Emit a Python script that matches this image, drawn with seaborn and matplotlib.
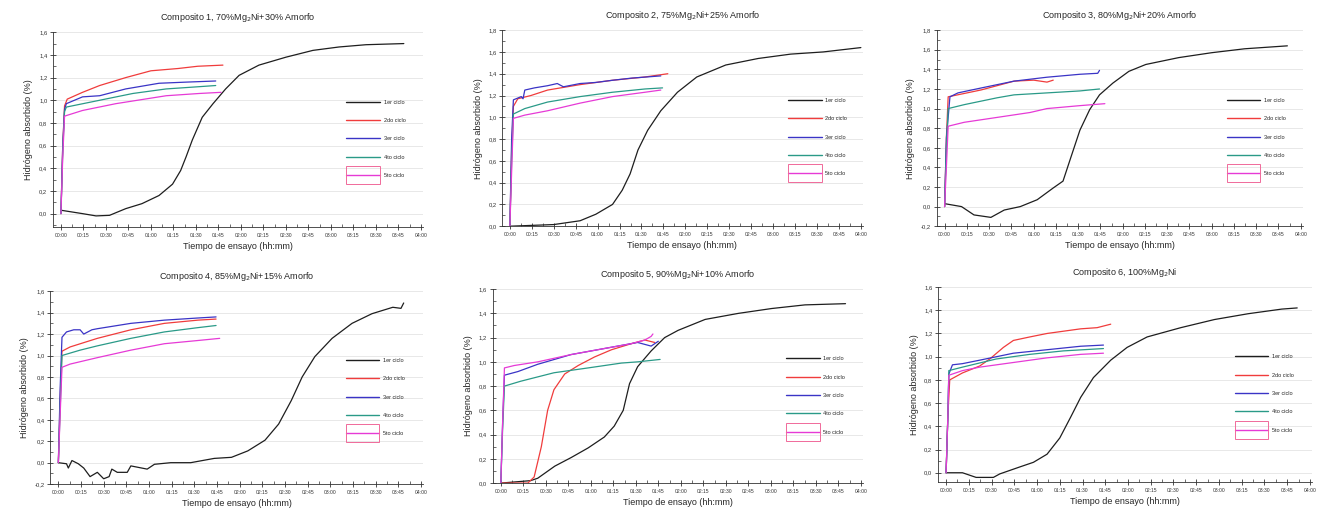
import pandas as pd
import seaborn as sns
import matplotlib.pyplot as plt
from matplotlib.patches import Rectangle
from matplotlib.ticker import MultipleLocator, FuncFormatter

ciclos = ["1er ciclo", "2do ciclo", "3er ciclo", "4to ciclo", "5to ciclo"]
colores = ["#1e1e1e", "#f03c3c", "#3a34c6", "#2a9a88", "#e63ad6"]

titulos = [
    "Composito 1, 70%Mg$_2$Ni+30% Amorfo",
    "Composito 2, 75%Mg$_2$Ni+25% Amorfo",
    "Composito 3, 80%Mg$_2$Ni+20% Amorfo",
    "Composito 4, 85%Mg$_2$Ni+15% Amorfo",
    "Composito 5, 90%Mg$_2$Ni+10% Amorfo",
    "Composito 6, 100%Mg$_2$Ni",
]

# tiempo en horas, hidrogeno absorbido en %
# Composito 1
c1_t1 = [0.0, 0.24, 0.39, 0.54, 0.72, 0.9, 1.09, 1.24, 1.33, 1.39, 1.46, 1.57, 1.69, 1.83, 1.98, 2.2, 2.5, 2.8, 3.09, 3.39, 3.81]
c1_h1 = [0.03, 0.0, -0.02, -0.015, 0.044, 0.088, 0.16, 0.26, 0.38, 0.5, 0.65, 0.85, 0.97, 1.1, 1.22, 1.31, 1.38, 1.44, 1.47, 1.49, 1.5]
c1_t2 = [0.0, 0.02, 0.04, 0.07, 0.24, 0.43, 0.72, 1.0, 1.3, 1.52, 1.8]
c1_h2 = [0.0, 0.6, 0.95, 1.01, 1.07, 1.13, 1.2, 1.26, 1.28, 1.3, 1.31]
c1_t3 = [0.0, 0.02, 0.04, 0.06, 0.24, 0.43, 0.72, 1.09, 1.39, 1.72]
c1_h3 = [0.0, 0.6, 0.92, 0.97, 1.03, 1.04, 1.1, 1.15, 1.16, 1.17]
c1_t4 = [0.0, 0.02, 0.04, 0.06, 0.43, 0.8, 1.17, 1.54, 1.72]
c1_h4 = [0.0, 0.55, 0.9, 0.94, 1.0, 1.06, 1.1, 1.12, 1.13]
c1_t5 = [0.0, 0.02, 0.04, 0.24, 0.61, 1.17, 1.54, 1.78]
c1_h5 = [0.0, 0.5, 0.86, 0.91, 0.97, 1.04, 1.06, 1.07]

# Composito 2
c2_t1 = [0.0, 0.5, 0.8, 0.98, 1.17, 1.28, 1.37, 1.46, 1.57, 1.72, 1.91, 2.13, 2.46, 2.83, 3.2, 3.57, 4.0]
c2_h1 = [0.0, 0.015, 0.05, 0.11, 0.2, 0.33, 0.48, 0.7, 0.88, 1.06, 1.23, 1.37, 1.48, 1.54, 1.58, 1.6, 1.64]
c2_t2 = [0.0, 0.02, 0.04, 0.09, 0.24, 0.43, 0.8, 1.17, 1.54, 1.8]
c2_h2 = [0.0, 0.7, 1.1, 1.17, 1.2, 1.25, 1.3, 1.34, 1.37, 1.4]
c2_t3 = [0.0, 0.02, 0.04, 0.13, 0.15, 0.17, 0.28, 0.43, 0.54, 0.61, 0.8, 0.98, 1.17, 1.39, 1.72]
c2_h3 = [0.0, 0.8, 1.16, 1.19, 1.17, 1.25, 1.27, 1.29, 1.31, 1.28, 1.31, 1.32, 1.34, 1.36, 1.38]
c2_t4 = [0.0, 0.02, 0.04, 0.17, 0.43, 0.8, 1.17, 1.54, 1.74]
c2_h4 = [0.0, 0.6, 1.03, 1.08, 1.14, 1.19, 1.23, 1.26, 1.27]
c2_t5 = [0.0, 0.02, 0.04, 0.17, 0.43, 0.8, 1.17, 1.54, 1.72]
c2_h5 = [0.0, 0.5, 0.99, 1.02, 1.06, 1.13, 1.19, 1.23, 1.25]

# Composito 3
c3_t1 = [0.0, 0.19, 0.33, 0.52, 0.67, 0.85, 1.04, 1.22, 1.33, 1.41, 1.52, 1.63, 1.74, 1.89, 2.07, 2.26, 2.63, 3.0, 3.37, 3.85]
c3_h1 = [0.03, 0.0, -0.085, -0.11, -0.035, 0.0, 0.07, 0.19, 0.26, 0.48, 0.78, 0.99, 1.14, 1.26, 1.38, 1.45, 1.52, 1.57, 1.61, 1.64]
c3_t2 = [0.0, 0.02, 0.04, 0.41, 0.78, 1.0, 1.15, 1.22]
c3_h2 = [0.0, 0.7, 1.12, 1.19, 1.28, 1.29, 1.27, 1.29]
c3_t3 = [0.0, 0.02, 0.06, 0.15, 0.41, 0.78, 1.15, 1.52, 1.72, 1.74]
c3_h3 = [0.0, 0.7, 1.12, 1.16, 1.21, 1.28, 1.32, 1.35, 1.36, 1.39]
c3_t4 = [0.0, 0.02, 0.04, 0.22, 0.59, 0.78, 1.15, 1.52, 1.74]
c3_h4 = [0.0, 0.6, 1.0, 1.04, 1.11, 1.14, 1.16, 1.18, 1.2]
c3_t5 = [0.0, 0.02, 0.04, 0.22, 0.59, 0.96, 1.15, 1.52, 1.8]
c3_h5 = [0.0, 0.4, 0.82, 0.86, 0.91, 0.96, 1.0, 1.03, 1.05]

# Composito 4
c4_t1 = [0.0, 0.09, 0.11, 0.15, 0.22, 0.28, 0.35, 0.43, 0.5, 0.56, 0.59, 0.65, 0.76, 0.8, 0.98, 1.06, 1.24, 1.46,
         1.72, 1.91, 2.09, 2.28, 2.43, 2.57, 2.69, 2.83, 3.02, 3.24, 3.46, 3.69, 3.78, 3.81]
c4_h1 = [0.0, -0.01, -0.05, 0.02, -0.01, -0.05, -0.13, -0.09, -0.15, -0.13, -0.06, -0.09, -0.09, -0.03, -0.06, -0.015, 0.0, 0.0,
         0.04, 0.05, 0.11, 0.21, 0.36, 0.58, 0.8, 0.99, 1.16, 1.3, 1.39, 1.45, 1.44, 1.49]
c4_t2 = [0.0, 0.02, 0.04, 0.13, 0.43, 0.8, 1.17, 1.54, 1.74]
c4_h2 = [0.0, 0.6, 1.04, 1.08, 1.16, 1.24, 1.3, 1.33, 1.34]
c4_t3 = [0.0, 0.02, 0.04, 0.09, 0.17, 0.24, 0.28, 0.37, 0.43, 0.8, 1.17, 1.54, 1.74]
c4_h3 = [0.0, 0.7, 1.17, 1.22, 1.24, 1.24, 1.2, 1.24, 1.25, 1.3, 1.33, 1.35, 1.36]
c4_t4 = [0.0, 0.02, 0.04, 0.24, 0.43, 0.8, 1.17, 1.54, 1.74]
c4_h4 = [0.0, 0.5, 1.0, 1.05, 1.09, 1.16, 1.22, 1.26, 1.28]
c4_t5 = [0.0, 0.02, 0.04, 0.13, 0.43, 0.8, 1.17, 1.54, 1.78]
c4_h5 = [0.0, 0.45, 0.89, 0.92, 0.98, 1.05, 1.11, 1.14, 1.16]

# Composito 5
c5_t1 = [0.0, 0.33, 0.41, 0.6, 0.78, 0.97, 1.15, 1.26, 1.36, 1.43, 1.52, 1.67, 1.82, 1.97, 2.27, 2.64, 3.01, 3.38, 3.83]
c5_h1 = [0.0, 0.02, 0.04, 0.14, 0.21, 0.29, 0.38, 0.47, 0.6, 0.82, 0.96, 1.09, 1.2, 1.26, 1.35, 1.4, 1.44, 1.47, 1.48]
c5_t2 = [0.0, 0.3, 0.37, 0.45, 0.52, 0.59, 0.71, 0.86, 1.04, 1.23, 1.45, 1.6, 1.71]
c5_h2 = [0.0, 0.0, 0.05, 0.3, 0.6, 0.77, 0.9, 0.97, 1.04, 1.1, 1.15, 1.18, 1.16]
c5_t3 = [0.0, 0.02, 0.04, 0.19, 0.41, 0.78, 1.15, 1.52, 1.67, 1.75]
c5_h3 = [0.0, 0.5, 0.89, 0.92, 0.98, 1.06, 1.11, 1.16, 1.13, 1.17]
c5_t4 = [0.0, 0.02, 0.04, 0.22, 0.59, 0.97, 1.34, 1.52, 1.77]
c5_h4 = [0.0, 0.45, 0.8, 0.84, 0.91, 0.95, 0.99, 1.0, 1.02]
c5_t5 = [0.0, 0.02, 0.04, 0.15, 0.41, 0.78, 1.15, 1.45, 1.6, 1.67, 1.69]
c5_h5 = [0.0, 0.5, 0.95, 0.97, 1.0, 1.06, 1.11, 1.15, 1.18, 1.21, 1.23]

# Composito 6
c6_t1 = [0.0, 0.18, 0.33, 0.52, 0.59, 0.81, 0.96, 1.11, 1.25, 1.37, 1.48, 1.62, 1.81, 1.99, 2.21, 2.58, 2.95, 3.32, 3.69, 3.86]
c6_h1 = [0.0, 0.0, -0.04, -0.04, -0.01, 0.05, 0.09, 0.16, 0.3, 0.48, 0.65, 0.82, 0.97, 1.08, 1.17, 1.25, 1.32, 1.37, 1.41, 1.42]
c6_t2 = [0.0, 0.02, 0.04, 0.18, 0.37, 0.48, 0.63, 0.74, 0.92, 1.11, 1.48, 1.66, 1.81]
c6_h2 = [0.0, 0.5, 0.8, 0.86, 0.92, 0.98, 1.08, 1.14, 1.17, 1.2, 1.24, 1.25, 1.28]
c6_t3 = [0.0, 0.02, 0.03, 0.07, 0.18, 0.37, 0.74, 1.11, 1.48, 1.73]
c6_h3 = [0.0, 0.5, 0.85, 0.93, 0.94, 0.97, 1.03, 1.06, 1.09, 1.1]
c6_t4 = [0.0, 0.02, 0.03, 0.18, 0.55, 0.92, 1.29, 1.73]
c6_h4 = [0.0, 0.5, 0.88, 0.91, 0.98, 1.02, 1.05, 1.07]
c6_t5 = [0.0, 0.02, 0.03, 0.18, 0.37, 0.74, 1.11, 1.48, 1.73]
c6_h5 = [0.0, 0.5, 0.84, 0.88, 0.91, 0.95, 0.99, 1.02, 1.03]

paneles = [
    [(c1_t1, c1_h1), (c1_t2, c1_h2), (c1_t3, c1_h3), (c1_t4, c1_h4), (c1_t5, c1_h5)],
    [(c2_t1, c2_h1), (c2_t2, c2_h2), (c2_t3, c2_h3), (c2_t4, c2_h4), (c2_t5, c2_h5)],
    [(c3_t1, c3_h1), (c3_t2, c3_h2), (c3_t3, c3_h3), (c3_t4, c3_h4), (c3_t5, c3_h5)],
    [(c4_t1, c4_h1), (c4_t2, c4_h2), (c4_t3, c4_h3), (c4_t4, c4_h4), (c4_t5, c4_h5)],
    [(c5_t1, c5_h1), (c5_t2, c5_h2), (c5_t3, c5_h3), (c5_t4, c5_h4), (c5_t5, c5_h5)],
    [(c6_t1, c6_h1), (c6_t2, c6_h2), (c6_t3, c6_h3), (c6_t4, c6_h4), (c6_t5, c6_h5)],
]

ylims = [(-0.12, 1.6), (0.0, 1.8), (-0.2, 1.8), (-0.2, 1.6), (0.0, 1.6), (-0.08, 1.6)]

# posiciones de los ejes [left, bottom, width, height]
posiciones = [
    [0.040, 0.563, 0.280, 0.375],
    [0.380, 0.565, 0.273, 0.377],
    [0.709, 0.565, 0.277, 0.377],
    [0.038, 0.069, 0.282, 0.371],
    [0.373, 0.071, 0.280, 0.373],
    [0.710, 0.073, 0.283, 0.375],
]

sns.set_style("white")
plt.rcParams["font.family"] = ["Liberation Sans", "DejaVu Sans"]


def hhmm(x, pos):
    minutos = int(round(x * 60))
    return f"{minutos // 60:02d}:{minutos % 60:02d}"


def coma(y, pos):
    return f"{y:.1f}".replace(".", ",")


fig = plt.figure(figsize=(13.21, 5.2), dpi=100)
leyendas = []

for i, series in enumerate(paneles):
    ax = fig.add_axes(posiciones[i])
    for (t, h), nombre, color in zip(series, ciclos, colores):
        df = pd.DataFrame({"t": t, "h": h})
        sns.lineplot(data=df, x="t", y="h", ax=ax, color=color, lw=0.9,
                     sort=False, estimator=None, label=nombre)

    ax.set_xlim(-0.09, 4.02)
    ax.set_ylim(*ylims[i])
    ax.xaxis.set_major_locator(MultipleLocator(0.25))
    ax.xaxis.set_minor_locator(MultipleLocator(0.125))
    ax.yaxis.set_major_locator(MultipleLocator(0.2))
    ax.yaxis.set_minor_locator(MultipleLocator(0.1))
    ax.xaxis.set_major_formatter(FuncFormatter(hhmm))
    ax.yaxis.set_major_formatter(FuncFormatter(coma))
    ax.tick_params(axis="both", which="major", direction="inout", length=4, width=0.6,
                   labelsize=3.6, colors="#333333", pad=2)
    ax.tick_params(axis="y", which="major", labelsize=4.2)
    ax.tick_params(axis="both", which="minor", direction="in", length=2, width=0.5, colors="#333333")
    ax.tick_params(axis="both", which="both", bottom=True, left=True)
    ax.grid(axis="y", which="major", color="#e4e4e4", lw=0.6)
    ax.grid(axis="x", visible=False)
    for lado in ["top", "right"]:
        ax.spines[lado].set_visible(False)
    for lado in ["left", "bottom"]:
        ax.spines[lado].set_color("#333333")
        ax.spines[lado].set_linewidth(0.6)

    ax.set_title(titulos[i], fontsize=6.5, pad=9)
    ax.set_xlabel("Tiempo de ensayo (hh:mm)", fontsize=6.5, labelpad=3)
    ax.set_ylabel("Hidrógeno absorbido (%)", fontsize=6.5, labelpad=4)

    leg = ax.legend(loc="upper left", bbox_to_anchor=(0.78, 0.68), frameon=False,
                    fontsize=4, handlelength=6.0, handletextpad=0.7, labelspacing=2.4)
    for linea in leg.get_lines():
        linea.set_linewidth(1.0)
    leyendas.append(leg)

# recuadro alrededor del simbolo del 5to ciclo, como en el original
fig.canvas.draw()
renderer = fig.canvas.get_renderer()
for leg in leyendas:
    bb = leg.get_lines()[4].get_window_extent(renderer)
    inv = fig.transFigure.inverted()
    (x0, y0), (x1, y1) = inv.transform([(bb.x0, bb.y0 - 9), (bb.x1, bb.y1 + 9)])
    fig.add_artist(Rectangle((x0, y0), x1 - x0, y1 - y0, transform=fig.transFigure,
                             fill=False, edgecolor="#f06a9a", lw=0.7))

plt.savefig("out.png", dpi=100)
